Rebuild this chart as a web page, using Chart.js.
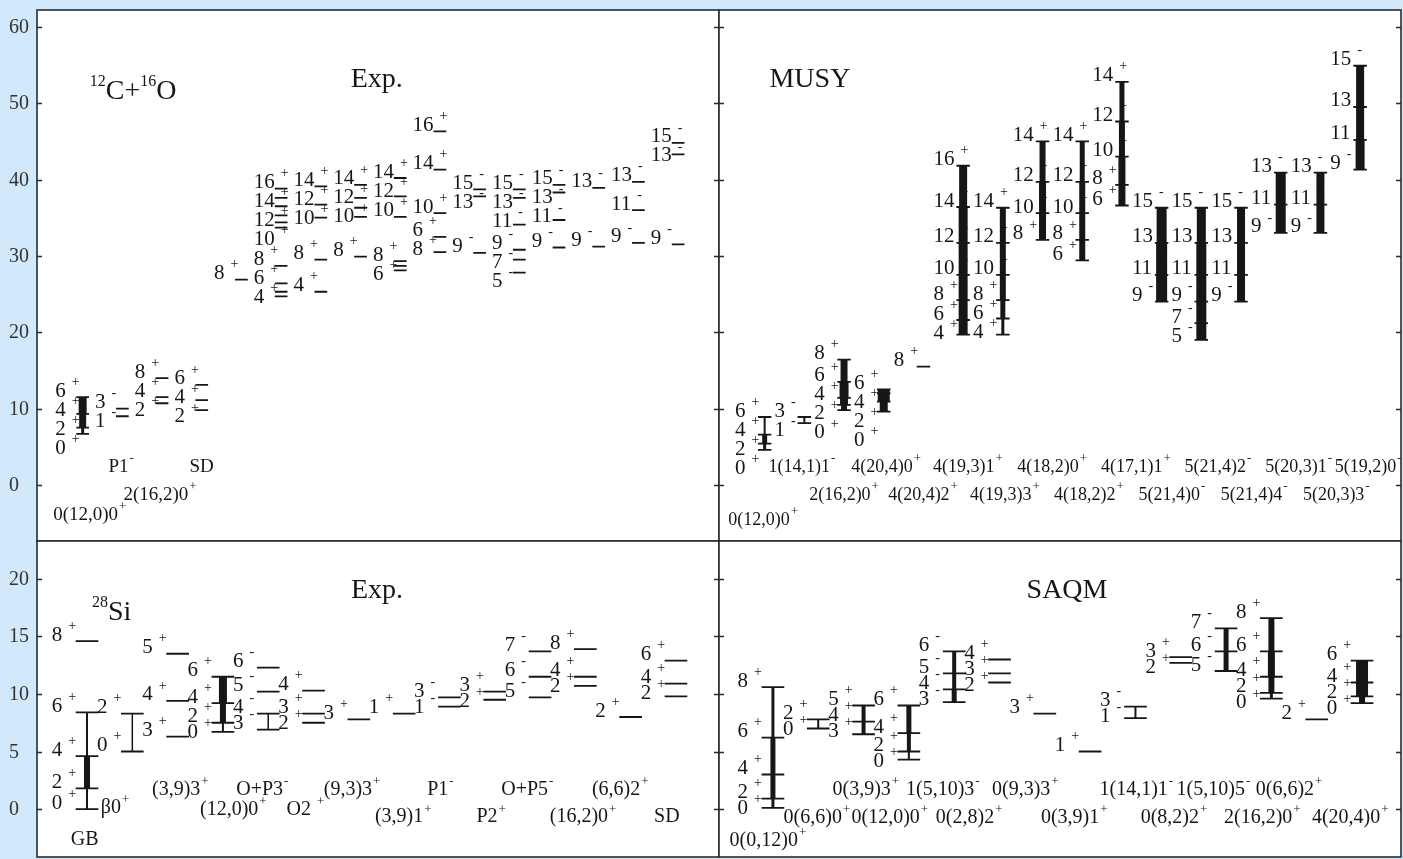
<!DOCTYPE html>
<html>
<head>
<meta charset="utf-8">
<script src="https://cdn.jsdelivr.net/npm/chart.js@4.4.0/dist/chart.umd.min.js"></script>
<style>
  html, body { margin: 0; padding: 0; background: #d2e8fb; }
  #wrap { position: relative; width: 1403px; height: 859px; overflow: hidden; background: #d2e8fb; }
  canvas { position: absolute; }
</style>
</head>
<body>
<div id="wrap">
  <canvas id="tl" width="721" height="543" style="left:0;top:0"></canvas>
  <canvas id="tr" width="685" height="543" style="left:718px;top:0"></canvas>
  <canvas id="bl" width="721" height="319" style="left:0;top:540px"></canvas>
  <canvas id="br" width="685" height="319" style="left:718px;top:540px"></canvas>
</div>
<script>
// tick values
const topTicks = [0, 10, 20, 30, 40, 50, 60];
const botTicks = [0, 5, 10, 15, 20];

// 12C+16O, experiment: band names and levels [spin, parity, energy]
const coExpNames = ['0(12,0)0+', 'P1-', '2(16,2)0+', 'SD', '', '', '', '', '', '', '', '', '', '', '', ''];
const coExpLevels = [
  [['0','+',6.7],['2','+',7.5],['4','+',9.3],['6','+',11.5]],
  [['1','-',9.0],['3','-',10.0]],
  [['2','+',10.7],['4','+',11.5],['8','+',14.0]],
  [['2','+',9.8],['4','+',11.1],['6','+',13.1]],
  [['8','+',26.9]],
  [['4','+',24.7],['','',25.3],['6','+',26.4],['8','+',28.7],['10','+',33.7],['','',34.4],['12','+',35.3],['','',36.5],['14','+',37.6],['16','+',38.8]],
  [['4','+',25.3],['8','+',29.5],['10','+',35.0],['12','+',36.7],['14','+',39.1]],
  [['8','+',29.9],['10','+',35.1],['','',36.3],['12','+',37.6],['14','+',39.3]],
  [['6','+',28.1],['','',28.7],['8','+',29.3],['10','+',35.1],['12','+',37.8],['14','+',40.2]],
  [['8','+',30.5],['6','+',32.5],['10','+',35.6],['14','+',41.3],['16','+',46.3]],
  [['9','-',30.4],['13','-',37.8],['15','-',38.7]],
  [['5','-',27.8],['7','-',29.5],['9','-',30.8],['11','-',34.1],['13','-',37.6],['15','-',38.7]],
  [['9','-',31.1],['11','-',34.7],['13','-',38.3],['15','-',39.3]],
  [['9','-',31.2],['13','-',38.9]],
  [['9','-',31.7],['11','-',36.0],['13','-',39.7]],
  [['9','-',31.5],['13','-',43.3],['15','-',44.8]]
];

// 12C+16O, MUSY
const coMusyNames = ['0(12,0)0+', '1(14,1)1-', '2(16,2)0+', '4(20,4)0+', '4(20,4)2+', '4(19,3)1+', '4(19,3)3+', '4(18,2)0+',
  '4(18,2)2+', '4(17,1)1+', '5(21,4)0-', '5(21,4)2-', '5(21,4)4-', '5(20,3)1-', '5(20,3)3-', '5(19,2)0-'];
const coMusyLevels = [
  [['0','+',4.6],['2','+',5.4],['4','+',6.6],['6','+',8.9]],
  [['1','-',8.1],['3','-',8.9]],
  [['0','+',9.8],['2','+',10.5],['4','+',11.4],['6','+',13.5],['8','+',16.4]],
  [['0','+',9.6],['2','+',10.9],['4','+',12.0],['6','+',12.5]],
  [['8','+',15.5]],
  [['4','+',19.7],['6','+',21.6],['8','+',24.2],['10','+',27.5],['12','+',31.7],['14','+',36.4],['16','+',41.8]],
  [['4','+',19.7],['6','+',21.8],['8','+',24.2],['10','+',27.5],['12','+',31.7],['14','+',36.3]],
  [['8','+',32.1],['10','+',35.6],['12','+',39.7],['14','+',45.0]],
  [['6','+',29.4],['8','+',32.1],['10','+',35.6],['12','+',39.7],['14','+',45.0]],
  [['6','+',36.6],['8','+',39.3],['10','+',43.0],['12','+',47.6],['14','+',52.8]],
  [['9','-',24.0],['11','-',27.5],['13','-',31.7],['15','-',36.3]],
  [['5','-',19.0],['7','-',21.2],['9','-',24.0],['11','-',27.5],['13','-',31.7],['15','-',36.3]],
  [['9','-',24.0],['11','-',27.5],['13','-',31.7],['15','-',36.3]],
  [['9','-',33.0],['11','-',36.7],['13','-',40.9]],
  [['9','-',33.0],['11','-',36.7],['13','-',40.9]],
  [['9','-',41.3],['11','-',45.2],['13','-',49.5],['15','-',54.9]]
];

// 28Si, experiment
const siExpNames = ['GB', '\u03B20+', '(3,9)3+', '(12,0)0+', 'O+P3-', 'O2 +', '(9,3)3+', '(3,9)1+', 'P1-', 'P2+', 'O+P5-', '(16,2)0+', '(6,6)2+', 'SD'];
const siExpLevels = [
  [['0','+',0.0],['2','+',1.8],['4','+',4.6],['6','+',8.4],['8','+',14.6]],
  [['0','+',5.0],['2','+',8.3]],
  [['3','+',6.3],['4','+',9.4],['5','+',13.5]],
  [['0','+',6.7],['2','+',7.5],['4','+',9.2],['6','+',11.5]],
  [['3','-',6.9],['4','-',8.3],['5','-',10.2],['6','-',12.3]],
  [['2','+',7.5],['3','+',8.3],['4','+',10.3]],
  [['3','+',7.8]],
  [['1','+',8.3]],
  [['1','-',8.9],['3','-',9.7]],
  [['2','+',9.5],['3','+',10.2]],
  [['5','-',9.7],['6','-',11.5],['7','-',13.7]],
  [['2','+',10.7],['4','+',11.5],['8','+',13.9]],
  [['2','+',8.0]],
  [['2','+',9.8],['4','+',10.9],['6','+',12.9]]
];

// 28Si, SAQM
const siSaqmNames = ['0(0,12)0+', '0(6,6)0+', '0(3,9)3+', '0(12,0)0+', '1(5,10)3-', '0(2,8)2+', '0(9,3)3+', '0(3,9)1+',
  '1(14,1)1-', '0(8,2)2+', '1(5,10)5-', '2(16,2)0+', '0(6,6)2+', '4(20,4)0+'];
const siSaqmLevels = [
  [['0','+',0.1],['2','+',0.9],['4','+',3.0],['6','+',6.2],['8','+',10.6]],
  [['0','+',7.0],['2','+',7.8]],
  [['3','+',6.5],['4','+',7.6],['5','+',9.0]],
  [['0','+',4.3],['2','+',5.0],['4','+',6.6],['6','+',9.0]],
  [['3','-',9.3],['4','-',10.4],['5','-',11.8],['6','-',13.7]],
  [['2','+',11.0],['3','+',11.8],['4','+',13.0]],
  [['3','+',8.3]],
  [['1','+',5.0]],
  [['1','-',7.9],['3','-',8.9]],
  [['2','+',12.7],['3','+',13.2]],
  [['5','-',12.0],['6','-',13.7],['7','-',15.7]],
  [['0','+',9.6],['2','+',10.1],['4','+',11.5],['6','+',13.7],['8','+',16.6]],
  [['2','+',7.8]],
  [['0','+',9.2],['2','+',9.8],['4','+',11.0],['6','+',12.9]]
];

// ---- styling / layout (band line widths between successive levels, label anchors) ----
const coExpBands = [[3,7,8]];
const coMusyBands = [[3,5,2],[2],[6,8,9,7],[8,12,12],null,[9,9,9,9,9,8],[3,5,6,6,6],[7,7,6],[6,6,6,5],[7,7,6,5],
  [11,11,10],[10,10,10,10,9],[8,8,8],[10,10],[8,8],[9,8,8]];
const siExpBands = [[2,6,2,0],[1.5],null,[2,6,8],[1.5,0,0]];
const siSaqmBands = [[3,5,5,3],[2],[4,4],[2,4,5],[5,4,4],null,null,null,[2],null,[5,5],[3,6,7,6],null,[6,12,12]];

const coExpNamePos = [[1.18,-3.93],[1.97,2.36],[2.95,-1.31],[4.01,2.36]];
const coMusyNamePos = [[0.96,-4.6],[1.94,2.36],[3.0,-1.31],[4.06,2.36],[4.99,-1.31],[6.12,2.36],[7.05,-1.31],[8.24,2.36],
  [9.17,-1.31],[10.35,2.36],[11.26,-1.31],[12.42,2.36],[13.33,-1.31],[14.45,2.36],[15.4,-1.31],[16.2,2.36]];
const siExpNamePos = [[0.96,-2.7],[1.62,0.1],[3.06,1.65],[4.23,-0.09],[4.87,1.65],[5.82,-0.09],[6.85,1.65],[7.98,-0.7],
  [8.8,1.65],[9.92,-0.7],[10.72,1.65],[11.95,-0.7],[12.77,1.65],[13.81,-0.7]];
const siSaqmNamePos = [[0.89,-2.78],[1.97,-0.78],[3.05,1.65],[3.58,-0.78],[4.75,1.65],[5.33,-0.78],[6.57,1.65],[7.65,-0.78],
  [9.02,1.65],[9.85,-0.78],[10.72,1.65],[11.8,-0.78],[12.39,1.65],[13.74,-0.78]];

const ink = '#161616';
const serif = '"Liberation Serif", "DejaVu Serif", serif';

// draw "text" with a trailing parity sign raised as a superscript
function drawSup(ctx, text, cx, cy, size, supSize, rise) {
  let main = text, sup = '';
  const last = text.slice(-1);
  if (last === '+' || last === '-') { main = text.slice(0, -1); sup = last; }
  ctx.font = `${size}px ${serif}`;
  const w1 = ctx.measureText(main).width;
  ctx.font = `${supSize}px ${serif}`;
  const w2 = ctx.measureText(sup).width;
  const x0 = cx - (w1 + w2 + 1) / 2;
  ctx.textAlign = 'left';
  ctx.font = `${size}px ${serif}`;
  ctx.fillText(main, x0, cy);
  ctx.font = `${supSize}px ${serif}`;
  ctx.fillText(sup, x0 + w1 + 1, cy - rise);
}

function schemeFor(p) {
  return {
    id: 'scheme',
    beforeDraw(chart) {
      const { ctx, chartArea: a } = chart;
      ctx.save();
      ctx.fillStyle = '#fff';
      ctx.fillRect(a.left, a.top, a.right - a.left, a.bottom - a.top);
      ctx.restore();
    },
    afterDraw(chart) {
      const { ctx, chartArea: a, scales: { x, y } } = chart;
      ctx.save();
      ctx.fillStyle = ink;
      ctx.textBaseline = 'middle';

      // spin labels, pushed down so they don't overlap
      p.levels.forEach((col, i) => {
        const left = x.getPixelForValue(i + 1 - p.half) - p.indent;
        const items = col.filter(l => l[0])
          .map(l => ({ s: l[0], par: l[1], py: y.getPixelForValue(l[2]) }))
          .sort((u, v) => u.py - v.py);
        let prev = -Infinity;
        items.forEach(it => {
          const ty = Math.max(it.py - p.lift, prev + p.gap);
          prev = ty;
          ctx.textAlign = 'left';
          ctx.font = `21px ${serif}`;
          ctx.fillText(it.s, left, ty);
          const w = ctx.measureText(it.s).width;
          ctx.font = `14px ${serif}`;
          ctx.fillText(it.par, left + w + 6, ty - 9);
        });
      });

      // band names
      p.names.forEach((nm, i) => {
        if (!nm || !p.namePos[i]) return;
        const [nx, ny] = p.namePos[i];
        drawSup(ctx, nm, x.getPixelForValue(nx), y.getPixelForValue(ny), p.nameSize, 13, 8);
      });

      // panel titles
      p.titles.forEach(t => {
        let px = x.getPixelForValue(t.x);
        const py = y.getPixelForValue(t.y);
        if (t.center) {
          ctx.font = `28px ${serif}`;
          ctx.textAlign = 'center';
          ctx.fillText(t.parts[0][0], px, py);
          return;
        }
        ctx.textAlign = 'left';
        t.parts.forEach(([txt, sup]) => {
          ctx.font = sup ? `16px ${serif}` : `28px ${serif}`;
          ctx.fillText(txt, px, sup ? py - 10 : py);
          px += ctx.measureText(txt).width;
        });
      });

      // frame and inward ticks
      ctx.strokeStyle = '#2b2b2b';
      ctx.lineWidth = 1.6;
      ctx.strokeRect(a.left, a.top, a.right - a.left, a.bottom - a.top);
      p.ticks.forEach(t => {
        const py = Math.round(y.getPixelForValue(t)) + 0.5;
        ctx.beginPath();
        ctx.moveTo(a.left, py); ctx.lineTo(a.left + 5, py);
        ctx.moveTo(a.right, py); ctx.lineTo(a.right - 5, py);
        ctx.stroke();
        if (p.tickLabels) {
          ctx.font = `20px ${serif}`;
          ctx.fillStyle = '#333';
          ctx.textAlign = 'left';
          ctx.fillText(String(t), a.left - 28, py);
        }
      });
      ctx.restore();
    }
  };
}

function makePanel(p) {
  const levelPts = [];
  p.levels.forEach((col, i) => col.forEach(l => {
    levelPts.push({ x: i + 1 - p.half, y: l[2] }, { x: i + 1 + p.half, y: l[2] }, { x: i + 1, y: null });
  }));
  const groups = {};
  p.bands.forEach((ws, i) => {
    if (!ws) return;
    const es = p.levels[i].map(l => l[2]).sort((u, v) => u - v);
    ws.forEach((w, k) => {
      if (!w) return;
      (groups[w] = groups[w] || []).push({ x: i + 1, y: es[k] }, { x: i + 1, y: es[k + 1] }, { x: i + 1, y: null });
    });
  });
  const line = (data, w) => ({
    data, showLine: true, spanGaps: false, fill: false,
    borderColor: ink, borderWidth: w, borderCapStyle: 'butt', pointRadius: 0
  });
  const datasets = [line(levelPts, 1.8)].concat(Object.keys(groups).map(w => line(groups[w], +w)));

  new Chart(document.getElementById(p.id), {
    type: 'scatter',
    data: { datasets },
    options: {
      responsive: false,
      animation: false,
      events: [],
      layout: { padding: p.pad },
      plugins: { legend: { display: false }, tooltip: { enabled: false } },
      scales: {
        x: { type: 'linear', min: p.x[0], max: p.x[1], display: false },
        y: { type: 'linear', min: p.y[0], max: p.y[1], display: false }
      }
    },
    plugins: [schemeFor(p)]
  });
}

makePanel({
  id: 'tl', names: coExpNames, levels: coExpLevels, bands: coExpBands, namePos: coExpNamePos,
  ticks: topTicks, tickLabels: true, x: [-0.15, 17.03], y: [-7.34, 62.2],
  half: 0.16, indent: 21, lift: 6, gap: 19, nameSize: 19,
  pad: { left: 37, top: 10, right: 2, bottom: 2 },
  titles: [
    { parts: [['Exp.', 0]], x: 8.41, y: 53.1, center: true },
    { parts: [['12', 1], ['C+', 0], ['16', 1], ['O', 0]], x: 1.18, y: 51.5 }
  ]
});
makePanel({
  id: 'tr', names: coMusyNames, levels: coMusyLevels, bands: coMusyBands, namePos: coMusyNamePos,
  ticks: topTicks, tickLabels: false, x: [-0.15, 17.03], y: [-7.34, 62.2],
  half: 0.17, indent: 23, lift: 6, gap: 19, nameSize: 18,
  pad: { left: 1, top: 10, right: 2, bottom: 2 },
  titles: [{ parts: [['MUSY', 0]], x: 2.14, y: 53.1, center: true }]
});
makePanel({
  id: 'bl', names: siExpNames, levels: siExpLevels, bands: siExpBands, namePos: siExpNamePos,
  ticks: botTicks, tickLabels: true, x: [-0.104, 14.95], y: [-4.17, 23.3],
  half: 0.25, indent: 24, lift: 6, gap: 16, nameSize: 20,
  pad: { left: 37, top: 1, right: 2, bottom: 2 },
  titles: [
    { parts: [['Exp.', 0]], x: 7.4, y: 19.0, center: true },
    { parts: [['28', 1], ['Si', 0]], x: 1.11, y: 17.1 }
  ]
});
makePanel({
  id: 'br', names: siSaqmNames, levels: siSaqmLevels, bands: siSaqmBands, namePos: siSaqmNamePos,
  ticks: botTicks, tickLabels: false, x: [-0.19, 14.86], y: [-4.17, 23.3],
  half: 0.25, indent: 24, lift: 6, gap: 16, nameSize: 20,
  pad: { left: 1, top: 1, right: 2, bottom: 2 },
  titles: [{ parts: [['SAQM', 0]], x: 7.49, y: 19.0, center: true }]
});
</script>
</body>
</html>
